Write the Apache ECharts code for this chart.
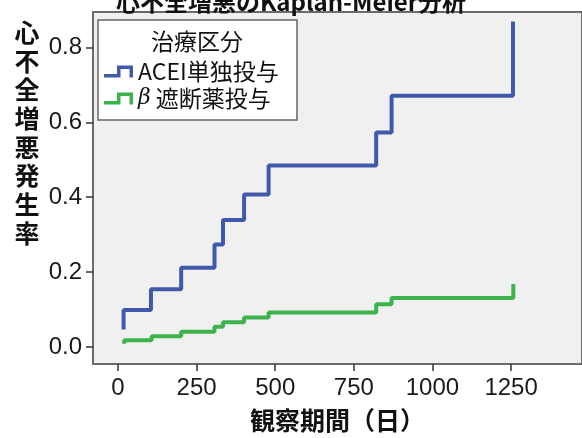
<!DOCTYPE html>
<html>
<head>
<meta charset="utf-8">
<script src="https://cdn.jsdelivr.net/npm/echarts@6/dist/echarts.min.js"></script>
<style>
  html, body { margin: 0; padding: 0; background: #fff; }
  #chart { width: 582px; height: 438px; }
</style>
</head>
<body>
<div id="chart"></div>
<script>
// 観察期間(日) と 累積発生率 (step points)
var aceiDays = [18, 18, 105, 201, 307, 334, 401, 479, 821, 870, 1256];
var aceiRate = [0.047, 0.099, 0.154, 0.212, 0.274, 0.339, 0.407, 0.485, 0.573, 0.671, 0.869];
var betaDays = [20, 20, 107, 201, 307, 334, 401, 479, 821, 870, 1257];
var betaRate = [0.009, 0.018, 0.0285, 0.041, 0.054, 0.066, 0.079, 0.092, 0.1145, 0.131, 0.168];

var xTicks = [0, 250, 500, 750, 1000, 1250];
var yTicks = [0, 0.2, 0.4, 0.6, 0.8];
var seriesNames = ['ACEI単独投与', 'β 遮断薬投与'];

function pairs(xs, ys) {
    return xs.map(function (x, i) { return [x, ys[i]]; });
}

var cjk = '"Noto Sans CJK JP", sans-serif';
var num = 'Arial, "Liberation Sans", sans-serif';
var stepIcon = 'path://M0,8.5 L13,8.5 L13,0 L29,0 L29,12 L25.5,12 L25.5,3.5 L16.5,3.5 L16.5,12 L0,12 Z';

var chart = echarts.init(document.getElementById('chart'));
chart.setOption({
    backgroundColor: '#ffffff',
    animation: false,
    title: {
        text: '心不全増悪のKaplan-Meier分析',
        left: 'center',
        top: -15,
        textStyle: { fontFamily: cjk, fontSize: 24, fontWeight: 'bold', color: '#111' }
    },
    grid: {
        left: 93, top: 12, width: 500, height: 353,
        show: true,
        backgroundColor: '#f0f0f0',
        borderColor: '#6a6a6a',
        borderWidth: 2
    },
    xAxis: {
        type: 'value',
        min: -79.3,
        max: 1475.4,
        name: '観察期間（日）',
        nameLocation: 'middle',
        nameGap: 44,
        nameTextStyle: { fontFamily: cjk, fontSize: 25, fontWeight: 'bold', color: '#111' },
        axisLine: { show: false, onZero: false },
        splitLine: { show: false },
        axisTick: { show: true, length: 7, customValues: xTicks, lineStyle: { color: '#333', width: 1.5 } },
        axisLabel: {
            customValues: xTicks,
            margin: 12,
            fontFamily: num, fontSize: 24, color: '#1a1a1a',
            formatter: function (v) { return String(v); }
        }
    },
    yAxis: {
        type: 'value',
        min: -0.0453,
        max: 0.8946,
        axisLine: { show: false, onZero: false },
        splitLine: { show: false },
        axisTick: { show: true, length: 7, customValues: yTicks, lineStyle: { color: '#333', width: 1.5 } },
        axisLabel: {
            customValues: yTicks,
            margin: 11,
            fontFamily: num, fontSize: 24, color: '#1a1a1a',
            formatter: function (v) { return v.toFixed(1); }
        }
    },
    legend: {
        orient: 'vertical',
        left: 104,
        top: 58,
        padding: 0,
        itemGap: 0,
        itemWidth: 29,
        itemHeight: 12,
        icon: stepIcon,
        data: seriesNames,
        formatter: function (name) {
            return name.charAt(0) === 'β' ? '{i|β}' + name.slice(1) : name;
        },
        textStyle: {
            fontFamily: cjk, fontSize: 23, color: '#111', lineHeight: 27,
            rich: { i: { fontFamily: 'DejaVu Serif', fontStyle: 'italic', fontSize: 22, color: '#111' } }
        }
    },
    graphic: [
        {
            type: 'rect', z: 0,
            shape: { x: 98, y: 20, width: 199, height: 100 },
            style: { fill: '#ffffff', stroke: '#666', lineWidth: 1.5 }
        },
        {
            type: 'text', z: 1,
            style: {
                x: 197, y: 41, text: '治療区分', align: 'center', verticalAlign: 'middle',
                font: '23px "Noto Sans CJK JP", sans-serif', fill: '#111'
            }
        },
        {
            type: 'text',
            style: {
                x: 27, y: 18, text: '心\n不\n全\n増\n悪\n発\n生\n率', align: 'center', verticalAlign: 'top',
                font: 'bold 25px "Noto Sans CJK JP", sans-serif', lineHeight: 28.7, fill: '#111'
            }
        }
    ],
    series: [
        {
            name: seriesNames[0],
            type: 'line',
            step: 'end',
            symbol: 'none',
            color: '#4059ab',
            lineStyle: { width: 4, color: '#4059ab' },
            data: pairs(aceiDays, aceiRate)
        },
        {
            name: seriesNames[1],
            type: 'line',
            step: 'end',
            symbol: 'none',
            color: '#3cb44b',
            lineStyle: { width: 4, color: '#3cb44b' },
            data: pairs(betaDays, betaRate)
        }
    ]
});
</script>
</body>
</html>
